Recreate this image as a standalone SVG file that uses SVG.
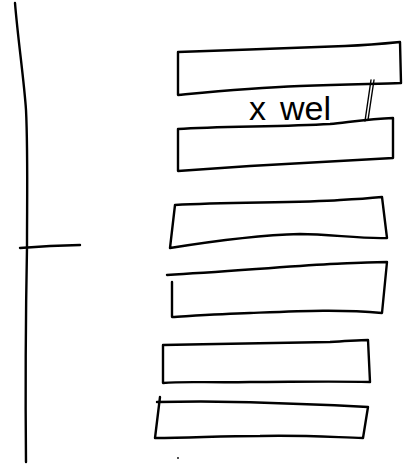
<svg xmlns="http://www.w3.org/2000/svg" width="405" height="464" viewBox="0 0 405 464">
<style>
.s{fill:none;stroke:#000;stroke-width:2.4;stroke-linecap:round;stroke-linejoin:round}
.t{fill:none;stroke:#000;stroke-width:1.4;stroke-linecap:round}
.lbl{font-family:"Liberation Sans","DejaVu Sans",sans-serif;font-size:34px;fill:#000}
</style>
<rect width="405" height="464" fill="#fff"/>
<g id="connectors">
<path class="s" d="M15,3 C18,40 24,80 26,110 C28,150 27,200 27,247 C26,300 25,360 26,462"/>
<path class="s" d="M20,248 L50,246 L80,245"/>
</g>
<g id="box1">
<path class="s" d="M178,52 C230,50 300,48 345,46 C370,45 390,43 400,42 L401,83 C380,84 350,84 300,86 C250,88 210,92 178,95 Z"/>
</g>
<g id="label">
<text class="lbl" x="249" y="120">x<tspan dx="14">wel</tspan></text>
<path class="t" d="M371,80 L365,121 M374,80 L368,120"/>
</g>
<g id="box2">
<path class="s" d="M178,129 C220,126 280,127 330,124 C350,122 370,119 393,118 L393,158 C350,160 300,163 250,166 C220,168 195,170 178,171 Z"/>
</g>
<g id="box3">
<path class="s" d="M175,205 C230,202 300,203 340,200 C360,199 372,198 382,197 L387,238 C360,239 330,234 300,234 C260,235 220,240 170,248 Z"/>
</g>
<g id="box4">
<path class="s" d="M167,275 C220,272 280,267 330,264 C355,263 375,262 387,262 L382,313 C340,309 300,311 250,313 C220,314 190,316 172,317 L172,282"/>
</g>
<g id="box5">
<path class="s" d="M163,345 C220,344 280,343 330,342 C350,341 360,340 368,340 L370,382 C330,381 290,382 250,382 C210,383 185,381 163,383 Z"/>
</g>
<g id="box6">
<path class="s" d="M157,402 C200,401 260,402 300,404 C330,405 350,406 368,407 L363,438 C330,437 300,435 260,436 C220,436 190,438 155,438 L160,397"/>
</g>
<circle cx="178" cy="458" r="0.9" fill="#000"/>
</svg>
